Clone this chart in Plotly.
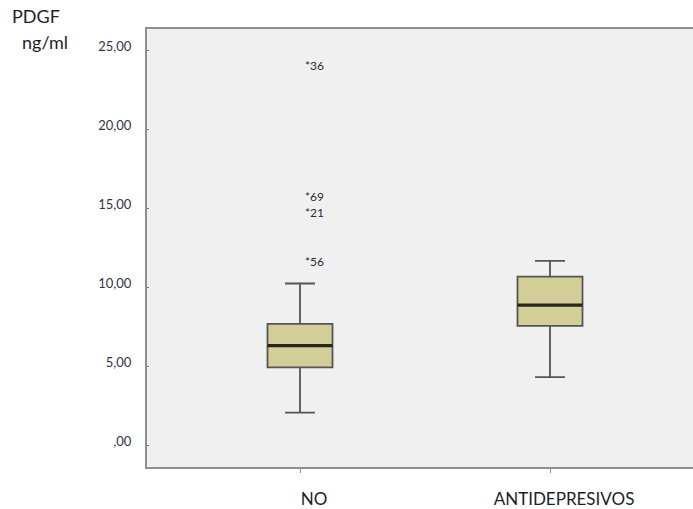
import plotly.graph_objects as go

# Group summaries for PDGF (ng/ml)
groups = ["NO", "ANTIDEPRESIVOS"]
q1 = [4.94, 7.56]
median = [6.31, 8.88]
q3 = [7.69, 10.69]
lower_whisker = [2.06, 4.31]
upper_whisker = [10.25, 11.69]

# Extreme values in the NO group, with case numbers
outlier_group = [0, 0, 0, 0]
outlier_values = [24.25, 15.98, 14.91, 11.84]
outlier_ids = ["36", "69", "21", "56"]

y_tickvals = [0, 5, 10, 15, 20, 25]
y_ticktext = [",00", "5,00", "10,00", "15,00", "20,00", "25,00"]

FONT = "Lato"
BOX_FILL = "#d3ce97"
BOX_W = 0.26

fig = go.Figure()

pos = list(range(len(groups)))
for i, g in enumerate(groups):
    fig.add_trace(go.Box(
        x=[pos[i]], q1=[q1[i]], median=[median[i]], q3=[q3[i]],
        lowerfence=[lower_whisker[i]], upperfence=[upper_whisker[i]],
        width=BOX_W, whiskerwidth=0.46,
        fillcolor=BOX_FILL,
        line=dict(color="#555555", width=1.8),
        boxpoints=False, showlegend=False, hoverinfo="skip", name=g,
    ))
    # heavier median bar
    fig.add_trace(go.Scatter(
        x=[pos[i] - BOX_W / 2, pos[i] + BOX_W / 2], y=[median[i], median[i]],
        mode="lines", line=dict(color="#26261e", width=3.4),
        showlegend=False, hoverinfo="skip",
    ))

# extreme-value labels: the asterisk sits on the value, case number beside it
annotations = []
for gi, v, lab in zip(outlier_group, outlier_values, outlier_ids):
    annotations.append(dict(
        x=pos[gi], y=v, xref="x", yref="y", text="*" + lab,
        showarrow=False, xanchor="left", yanchor="middle", xshift=3, yshift=-3,
        font=dict(family=FONT, size=12, color="#2a2a35"),
    ))

annotations.append(dict(
    x=-0.2509, y=1.03, xref="paper", yref="paper", text="PDGF",
    showarrow=False, xanchor="left", yanchor="middle",
    font=dict(family=FONT, size=18, color="#1e1e28"),
))
annotations.append(dict(
    x=-0.2326, y=0.971, xref="paper", yref="paper", text="ng/ml",
    showarrow=False, xanchor="left", yanchor="middle",
    font=dict(family=FONT, size=18, color="#1e1e28"),
))

fig.update_layout(
    width=693, height=509,
    margin=dict(l=147, r=0, t=29, b=37),
    paper_bgcolor="white",
    plot_bgcolor="#f0f0f0",
    annotations=annotations,
    xaxis=dict(
        range=[-0.612, 1.572],
        tickvals=pos, ticktext=groups,
        showgrid=False, zeroline=False,
        showline=True, linecolor="#8f8f8f", linewidth=2, mirror=True,
        ticks="outside", ticklen=4, tickcolor="#8f8f8f", tickwidth=1,
        ticklabelstandoff=12, ticklabelshift=14,
        tickfont=dict(family=FONT, size=17, color="#1e1e28"),
    ),
    yaxis=dict(
        range=[-1.38, 26.38],
        tickvals=y_tickvals, ticktext=y_ticktext,
        showgrid=False, zeroline=False,
        showline=True, linecolor="#8f8f8f", linewidth=2,
        ticks="inside", ticklen=2, tickcolor="#777777", tickwidth=1,
        ticklabelstandoff=11, ticklabelshift=-4,
        tickfont=dict(family=FONT, size=13, color="#33334a"),
    ),
)

fig.write_html("out.html")
